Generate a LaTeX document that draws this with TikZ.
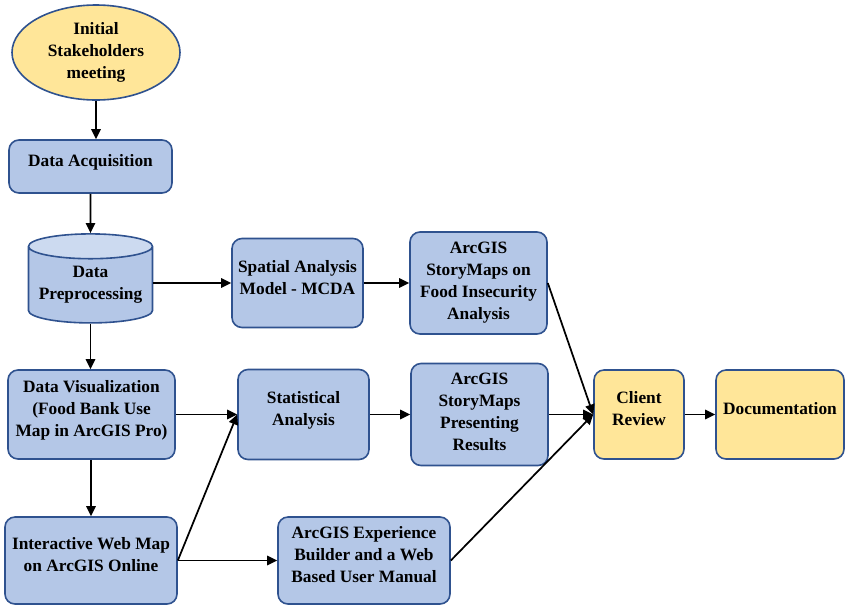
\documentclass[tikz,border=0pt]{standalone}
\usepackage{fontspec}
\setmainfont{Liberation Serif}
\usepackage{tikz}
\usetikzlibrary{shapes.geometric}
\usetikzlibrary{arrows.meta}
\usepackage{xcolor}
\definecolor{myblue}{HTML}{B4C7E7}
\definecolor{mytop}{HTML}{CCDAF0}
\definecolor{myyellow}{HTML}{FFE699}
\definecolor{myborder}{HTML}{2F528F}
\tikzset{every text node part/.style={align=center, font={\bfseries\fontsize{13pt}{16.5pt}\selectfont}}}
\tikzset{box/.style={draw=myborder, fill=myblue, line width=1.2pt, rounded corners=7.5pt, inner sep=2pt, execute at end node={\rule[-#1]{0pt}{0pt}}}, box/.default=9pt}
\tikzstyle{ybox} = [box, fill=myyellow]
\tikzstyle{ln} = [draw, line width=1.3pt, -{Triangle[length=7.5pt, width=7pt]}]

\begin{document}
\begin{tikzpicture}[x=0.75pt, y=-0.75pt]
  \useasboundingbox (0,0) rectangle (848,615);
  \node[ellipse, draw=myborder, fill=myyellow, line width=1.2pt, minimum width=126pt, minimum height=71.25pt, inner sep=0pt] (meet) at (96,52.5) {Initial\\Stakeholders\\meeting};
  \node[box, minimum width=122.25pt, minimum height=39.75pt] (acq) at (90.5,166.5) {Data Acquisition};
  \node[cylinder, shape border rotate=90, aspect=0.24, draw=myborder, line width=1.2pt, cylinder uses custom fill, cylinder body fill=myblue, cylinder end fill=mytop, minimum width=93pt, minimum height=66.75pt, inner sep=0pt] (prep) at (90.5,285) {Data\\Preprocessing};
  \node[box, minimum width=98.25pt, minimum height=66.75pt] (spat) at (297.5,283) {Spatial Analysis\\Model - MCDA};
  \node[box=4pt, minimum width=102.75pt, minimum height=76.5pt] (sto1) at (478.5,283) {ArcGIS\\StoryMaps on\\Food Insecurity\\Analysis};
  \node[box, minimum width=125.25pt, minimum height=66.75pt] (viz) at (91.5,414.5) {Data Visualization\\(Food Bank Use\\Map in ArcGIS Pro)};
  \node[box, minimum width=98.25pt, minimum height=67.5pt] (stat) at (303.5,414.5) {Statistical\\Analysis};
  \node[box=4pt, minimum width=102.75pt, minimum height=76.5pt] (sto2) at (479.5,414.5) {ArcGIS\\StoryMaps\\Presenting\\Results};
  \node[ybox, minimum width=67.5pt, minimum height=66.75pt] (crev) at (639,414.5) {Client\\Review};
  \node[ybox, minimum width=96pt, minimum height=66.75pt] (doc) at (780,414.5) {Documentation};
  \node[box, minimum width=129pt, minimum height=65.25pt] (web) at (91,560.5) {Interactive Web Map\\on ArcGIS Online};
  \node[box, minimum width=129pt, minimum height=65.25pt] (exp) at (364,560.5) {ArcGIS Experience\\Builder and a Web\\Based User Manual};
  \path[ln] (meet.south) -- (meet.south |- acq.north);
  \path[ln] (acq.south -| prep) -- (prep.north);
  \path[ln] (prep.east |- spat.west) -- (spat.west);
  \path[ln] (spat) -- (sto1);
  \path[ln] (sto1.east) -- (crev.west);
  \path[ln] (prep.south) -- (prep.south |- viz.north);
  \path[ln] (viz) -- (stat);
  \path[ln] (stat) -- (sto2);
  \path[ln] (sto2) -- (crev);
  \path[ln] (crev) -- (doc);
  \path[ln] (viz.south -| web) -- (web.north);
  \path[ln] (web.east) -- (stat.west);
  \path[ln] (web) -- (exp);
  \path[ln] (exp.east) -- (crev.west);
\end{tikzpicture}
\end{document}
